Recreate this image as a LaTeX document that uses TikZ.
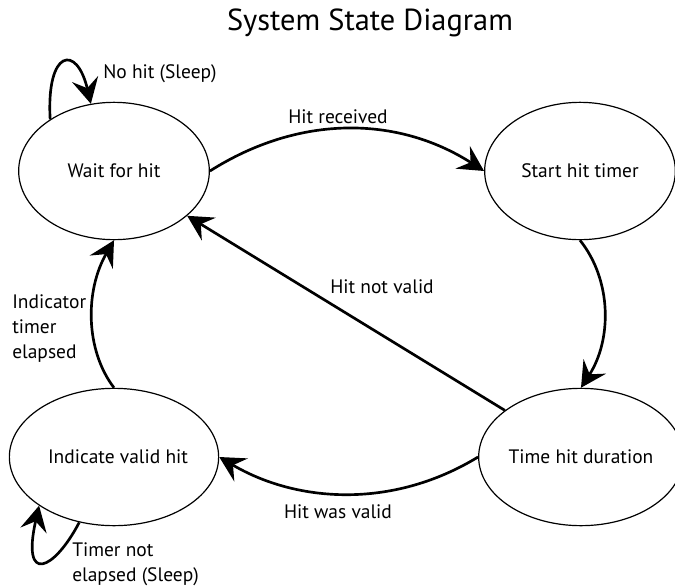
\documentclass[tikz,border=0pt]{standalone}
\usepackage{fontspec}
\setmainfont{PT Sans}
\usetikzlibrary{arrows.meta,shapes.geometric}
\begin{document}
\begin{tikzpicture}[x=0.75pt,y=-0.75pt,
  state/.style={draw=black, line width=0.9pt, ellipse, inner sep=0pt,
    minimum width=143pt, minimum height=103pt,
    font=\fontsize{14.6}{17}\selectfont},
  trans/.style={draw=black, line width=2pt,
    -{Stealth[length=19pt,width=20pt,inset=7pt]}},
  lbl/.style={inner sep=0pt, font=\fontsize{14.6}{18.75}\selectfont},
  ttl/.style={inner sep=0pt, font=\fontsize{22.8}{27}\selectfont}
]
\useasboundingbox (0,0) rectangle (675,586);
\node[ttl, anchor=base] (title) at (370,30) {System State Diagram};

\node[state] (W) at (114,171) {Wait for hit\hspace{13.5pt}};
\node[state] (S) at (580,171) {Start hit timer};
\node[state] (T) at (581,457) {Time hit duration};
\node[state] (I) at (114,457) {\hspace{6pt}Indicate valid hit};

% self loop on Wait for hit
\draw[trans] (W.141) .. controls +(-4,-70) and +(-14,-60) .. (W.109);
% Hit received
\draw[trans] (W.east) .. controls +(90,-57) and +(-86,-55) .. (S.west);
% Start -> Time
\draw[trans] (S.south) .. controls +(32,40) and +(31,-48) .. (T.north);
% Hit not valid
\draw[trans] (T) -- (W);
% Hit was valid
\draw[trans] (T.west) .. controls +(-87,53) and +(76,45) .. (I.east);
% Indicator timer elapsed
\draw[trans] (I.north) .. controls +(-29,-38) and +(-29,50) .. (W.south);
% self loop on Indicate valid hit
\draw[trans] (I.242) .. controls +(-25,48) and +(-18,80) .. (I.213);

\node[lbl, anchor=base west] (l1) at (103,78) {No hit (Sleep)};
\node[lbl, anchor=base] (l2) at (338,123) {Hit received};
\node[lbl, anchor=base] (l3) at (382,293) {Hit not valid};
\node[lbl, anchor=base] (l4) at (338,518) {Hit was valid};
\node[lbl, anchor=west, align=left] (l5) at (12,329) {Indicator\\timer\\elapsed};
\node[lbl, anchor=west, align=left] (l6) at (72,564) {Timer not\\elapsed (Sleep)};
\end{tikzpicture}
\end{document}
